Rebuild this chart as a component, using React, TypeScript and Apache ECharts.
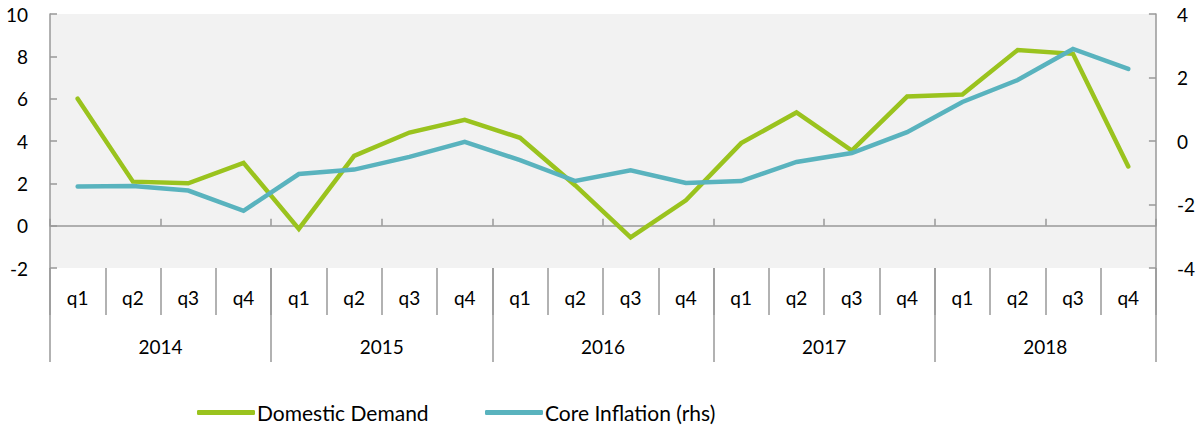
import React, { useEffect, useRef } from "react";
import * as echarts from "echarts";

const quarters = [
  "q1", "q2", "q3", "q4", "q1", "q2", "q3", "q4", "q1", "q2",
  "q3", "q4", "q1", "q2", "q3", "q4", "q1", "q2", "q3", "q4",
];
const years = ["2014", "2015", "2016", "2017", "2018"];
const domesticDemand = [
  6.0, 2.08, 2.0, 2.97, -0.15, 3.3, 4.4, 5.0, 4.15, 1.9,
  -0.55, 1.2, 3.9, 5.35, 3.55, 6.1, 6.2, 8.3, 8.12, 2.8,
];
const coreInflation = [
  -1.43, -1.42, -1.56, -2.2, -1.04, -0.9, -0.5, -0.03, -0.6, -1.26,
  -0.92, -1.32, -1.26, -0.66, -0.38, 0.28, 1.23, 1.92, 2.9, 2.27,
];
const leftTicks = { min: -2, max: 10, interval: 2 };
const rightTicks = { min: -4, max: 4, interval: 2 };

const GREEN = "#9AC31E";
const BLUE = "#59B3BE";
const AXIS = "#999999";
const FONT = "Lato";

export default function App() {
  const ref = useRef<HTMLDivElement>(null);
  useEffect(() => {
    if (!ref.current) return;
    const chart = echarts.init(ref.current, undefined, { renderer: "svg" });
    const labelStyle = { color: "#000", fontSize: 19, fontFamily: FONT };
    const legendText = { color: "#000", fontSize: 21, fontFamily: FONT, lineHeight: 21, padding: [0, 0, 0, -3] };
    chart.setOption({
      animation: false,
      grid: {
        left: 50,
        right: 42,
        top: 14,
        bottom: 157,
        show: true,
        backgroundColor: "#F2F2F2",
        borderWidth: 0,
      },
      legend: [
        {
          data: ["Domestic Demand"],
          left: 197,
          top: 402,
          padding: 0,
          icon: "roundRect",
          itemWidth: 58,
          itemHeight: 5,
          itemGap: 0,
          textStyle: legendText,
        },
        {
          data: ["Core Inflation (rhs)"],
          left: 485,
          top: 402,
          padding: 0,
          icon: "roundRect",
          itemWidth: 58,
          itemHeight: 5,
          itemGap: 0,
          textStyle: legendText,
        },
      ],
      xAxis: [
        {
          type: "category",
          data: quarters.map((q, i) => years[Math.floor(i / 4)] + " " + q),
          position: "bottom",
          axisLine: { show: true, onZero: true, lineStyle: { color: AXIS, width: 1.5 } },
          axisTick: { show: true, inside: true, length: 7, lineStyle: { color: AXIS, width: 1.5 } },
          axisLabel: { show: false },
          splitLine: { show: false },
        },
        {
          type: "category",
          data: quarters,
          position: "bottom",
          axisLine: { show: false, onZero: false },
          axisTick: { show: true, length: 47, interval: 0, lineStyle: { color: AXIS, width: 1.5 } },
          axisLabel: { ...labelStyle, interval: 0, margin: 20 },
          splitLine: { show: false },
        },
        {
          type: "category",
          data: years,
          position: "bottom",
          axisLine: { show: false, onZero: false },
          axisTick: { show: true, length: 94, interval: 0, lineStyle: { color: AXIS, width: 1.5 } },
          axisLabel: { ...labelStyle, interval: 0, margin: 69 },
          splitLine: { show: false },
        },
      ],
      yAxis: [
        {
          type: "value",
          ...leftTicks,
          position: "left",
          axisLine: { show: true, lineStyle: { color: AXIS, width: 1.5 } },
          axisTick: { show: true, inside: true, length: 7, lineStyle: { color: AXIS, width: 1.5 } },
          axisLabel: { ...labelStyle, margin: 22 },
          splitLine: { show: false },
        },
        {
          type: "value",
          ...rightTicks,
          position: "right",
          axisLine: { show: true, lineStyle: { color: AXIS, width: 1.5 } },
          axisTick: { show: true, inside: true, length: 7, lineStyle: { color: AXIS, width: 1.5 } },
          axisLabel: { ...labelStyle, margin: 21 },
          splitLine: { show: false },
        },
      ],
      series: [
        {
          name: "Domestic Demand",
          type: "line",
          xAxisIndex: 0,
          yAxisIndex: 0,
          data: domesticDemand,
          symbol: "none",
          color: GREEN,
          lineStyle: { color: GREEN, width: 4.5, cap: "round", join: "miter" },
        },
        {
          name: "Core Inflation (rhs)",
          type: "line",
          xAxisIndex: 0,
          yAxisIndex: 1,
          data: coreInflation,
          symbol: "none",
          color: BLUE,
          lineStyle: { color: BLUE, width: 4.5, cap: "round", join: "miter" },
        },
      ],
    });
    return () => chart.dispose();
  }, []);
  return <div ref={ref} style={{ width: 1198, height: 425, position: "absolute", left: 0, top: 0 }} />;
}
